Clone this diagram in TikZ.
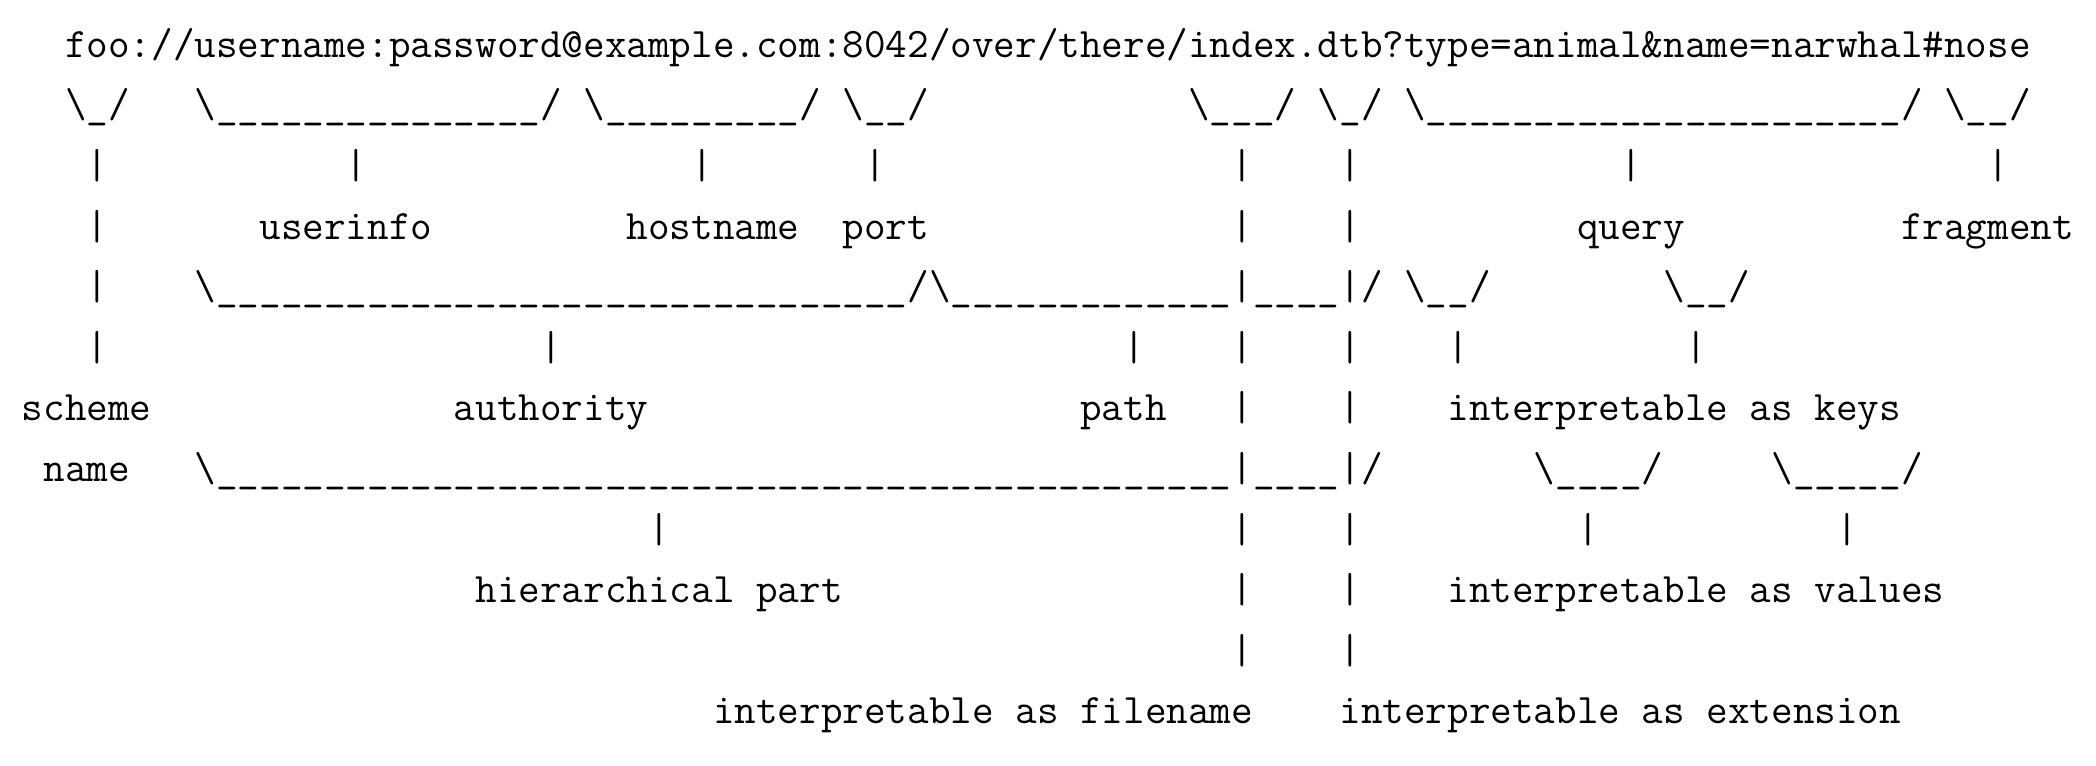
\documentclass[tikz,border=0pt]{standalone}
\newlength{\cw}
\settowidth{\cw}{\fontsize{20pt}{24pt}\selectfont\ttfamily M}
\pgfmathsetmacro{\fsz}{20*10.8pt/\cw}
\newcommand{\urun}[1]{\foreach\k in {1,...,#1}{\_}}
\newcommand{\ubrace}[1]{\textbackslash\urun{#1}/}
\begin{document}
\begin{tikzpicture}[x=10.8pt,y=-30.3pt,
  txt/.style={anchor=base west,inner sep=0pt,font=\fontsize{\fsz pt}{24pt}\selectfont\ttfamily}]
	\useasboundingbox (-0.995,0.055) rectangle (96.04,12.695);
	\node[txt] (uri) at (2,1) {foo://username:password@example.com:8042/over/there/index.dtb?type=animal\&name=narwhal\#nose};
	\node[txt] (b-scheme) at (2,2) {\ubrace{1}};
	\node[txt] (b-userinfo) at (8,2) {\ubrace{15}};
	\node[txt] (b-hostname) at (26,2) {\ubrace{9}};
	\node[txt] (b-port) at (38,2) {\ubrace{2}};
	\node[txt] (b-filename) at (54,2) {\ubrace{3}};
	\node[txt] (b-extension) at (60,2) {\ubrace{1}};
	\node[txt] (b-query) at (64,2) {\ubrace{22}};
	\node[txt] (b-fragment) at (89,2) {\ubrace{2}};
	\node[txt] (userinfo) at (11,4) {userinfo};
	\node[txt] (hostname) at (28,4) {hostname};
	\node[txt] (port) at (38,4) {port};
	\node[txt] (query) at (72,4) {query};
	\node[txt] (fragment) at (87,4) {fragment};
	\node[txt] (b-authority) at (8,5) {\ubrace{32}};
	\node[txt] (b-path) at (42,5) {\textbackslash\urun{13}|\urun{4}|/};
	\node[txt] (b-key-a) at (64,5) {\ubrace{2}};
	\node[txt] (b-key-b) at (76,5) {\ubrace{2}};
	\node[txt] (scheme) at (0,7) {scheme};
	\node[txt] (authority) at (20,7) {authority};
	\node[txt] (path) at (49,7) {path};
	\node[txt] (keys) at (66,7) {interpretable as keys};
	\node[txt] (name) at (1,8) {name};
	\node[txt] (b-hier) at (8,8) {\textbackslash\urun{47}|\urun{4}|/};
	\node[txt] (b-val-a) at (70,8) {\ubrace{4}};
	\node[txt] (b-val-b) at (81,8) {\ubrace{5}};
	\node[txt] (hier) at (21,10) {hierarchical part};
	\node[txt] (values) at (66,10) {interpretable as values};
	\node[txt] (filename) at (32,12) {interpretable as filename};
	\node[txt] (extension) at (61,12) {interpretable as extension};
	\foreach \r/\c in {3/3,3/15,3/31,3/39,3/56,3/61,3/74,3/91,4/3,4/56,4/61,5/3,%
		6/3,6/24,6/51,6/56,6/61,6/66,6/77,7/56,7/61,%
		9/29,9/56,9/61,9/72,9/84,10/56,10/61,11/56,11/61}
		\node[txt] (p-\r-\c) at (\c,\r) {|};
\end{tikzpicture}
\end{document}
